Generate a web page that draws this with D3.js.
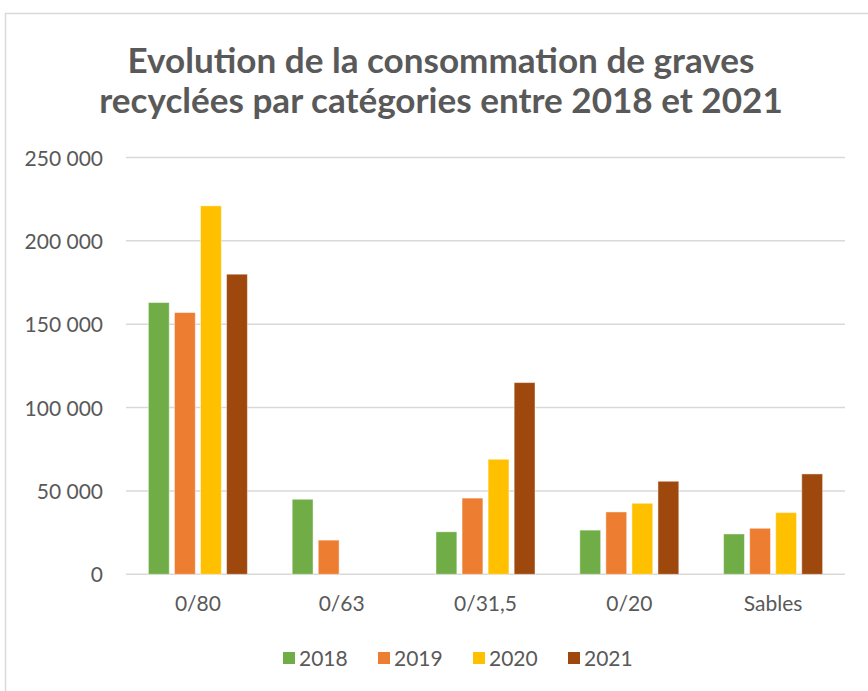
<!DOCTYPE html>
<html>
<head>
<meta charset="utf-8">
<script src="https://cdn.jsdelivr.net/npm/d3@7"></script>
<style>
  html, body { margin: 0; padding: 0; background: #ffffff; }
  svg { display: block; }
  text { font-family: Lato, "Open Sans", "Liberation Sans", sans-serif; fill: #595959; }
</style>
</head>
<body>
<svg id="chart" width="868" height="691"></svg>
<script>
// ---- data ----
const titleLines = ["Evolution de la consommation de graves", "recyclées par catégories entre 2018 et 2021"];
const categories = ["0/80", "0/63", "0/31,5", "0/20", "Sables"];
const years = ["2018", "2019", "2020", "2021"];
const values2018 = [163000, 45000, 25500, 26500, 24200];
const values2019 = [157000, 20500, 45700, 37400, 27600];
const values2020 = [221000, 0, 69000, 42600, 37000];
const values2021 = [180000, 0, 115000, 55800, 60200];
const colors = ["#70AD47", "#ED7D31", "#FFC000", "#9E480E"];
const yTicks = [0, 50000, 100000, 150000, 200000, 250000];

const seriesValues = [values2018, values2019, values2020, values2021];
const rows = [];
categories.forEach((c, i) => {
  years.forEach((y, j) => rows.push({ cat: c, year: y, value: seriesValues[j][i], color: colors[j] }));
});

const svg = d3.select("#chart");

// chart frame
svg.append("rect")
  .attr("x", 5.5).attr("y", 13.5)
  .attr("width", 900).attr("height", 700)
  .attr("fill", "#ffffff")
  .attr("stroke", "#d9d9d9").attr("stroke-width", 1.5);

// title
const title = svg.append("text")
  .attr("text-anchor", "middle")
  .style("font-weight", "bold")
  .style("font-size", "31px");
title.selectAll("tspan").data(titleLines).join("tspan")
  .attr("x", 441)
  .attr("y", (d, i) => 73 + i * 40)
  .text(d => d);
// fit first line width to reference
const w1 = title.select("tspan").node().getComputedTextLength();
title.style("font-size", (31 * 627 / w1).toFixed(2) + "px");

// scales
const x0 = d3.scaleBand().domain(categories).range([126, 845]).paddingInner(0).paddingOuter(0);
const groupW = 99;
const x1 = d3.scaleBand().domain(years)
  .range([(x0.bandwidth() - groupW) / 2, (x0.bandwidth() + groupW) / 2])
  .paddingInner(0.2).paddingOuter(0);
const y = d3.scaleLinear().domain([0, 250000]).range([574.3, 157.5]);

const fmt = d3.formatLocale({ decimal: ",", thousands: "\u00a0", grouping: [3], currency: ["", " €"] }).format(",d");

// gridlines
svg.append("g")
  .selectAll("line").data(yTicks).join("line")
  .attr("x1", 126).attr("x2", 845)
  .attr("y1", d => y(d)).attr("y2", d => y(d))
  .attr("stroke", "#d9d9d9").attr("stroke-width", 1.5);

// y axis labels
const yAxis = d3.axisLeft(y).tickValues(yTicks).tickFormat(fmt).tickSize(0).tickPadding(0);
const gy = svg.append("g").attr("transform", "translate(103,0)").call(yAxis);
gy.select(".domain").remove();
gy.selectAll("text")
  .attr("dy", "0.36em")
  .style("font-size", "21px")
  .style("font-family", "Lato, 'Open Sans', sans-serif")
  .attr("fill", "#595959");

// x axis labels
const xAxis = d3.axisBottom(x0).tickSize(0).tickPadding(0);
const gx = svg.append("g").attr("transform", "translate(0,600)").call(xAxis);
gx.select(".domain").remove();
gx.selectAll("text")
  .attr("dy", "0.5em")
  .style("font-size", "21px")
  .style("font-family", "Lato, 'Open Sans', sans-serif")
  .attr("fill", "#595959");

// bars
svg.append("g")
  .selectAll("rect").data(rows.filter(d => d.value > 0)).join("rect")
  .attr("x", d => x0(d.cat) + x1(d.year))
  .attr("width", x1.bandwidth())
  .attr("y", d => y(d.value))
  .attr("height", d => y(0) - y(d.value))
  .attr("fill", d => d.color)
  .attr("stroke", "#ffffff").attr("stroke-opacity", 0.45).attr("stroke-width", 1);

// legend
const lx = d3.scalePoint().domain(years).range([283, 568]);
const lg = svg.append("g").selectAll("g").data(years).join("g")
  .attr("transform", d => `translate(${lx(d)},652)`);
lg.append("rect").attr("width", 12).attr("height", 12)
  .attr("fill", (d, i) => colors[i]);
lg.append("text").attr("x", 16).attr("y", 6).attr("dy", "0.36em")
  .style("font-size", "21px")
  .text(d => d);
</script>
</body>
</html>
